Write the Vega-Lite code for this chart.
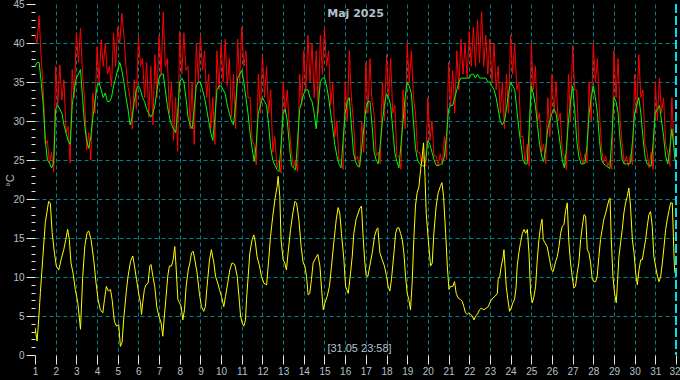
{
 "$schema": "https://vega.github.io/schema/vega-lite/v6.json",
 "width": 641, "height": 351,
 "autosize": "none",
 "padding": {"left": 35, "top": 4, "right": 4, "bottom": 25},
 "background": "#000000",
 "title": {"text": "Maj 2025", "anchor": "middle", "frame": "group", "offset": -29, "font": "DejaVu Sans", "fontSize": 11, "fontWeight": "bold", "color": "#b4c0cc", "baseline": "alphabetic"},
 "datasets": {
  "rg": [
{"t":1.0,"r":41,"g":37},{"t":1.1,"r":40,"g":37.5},{"t":1.2,"r":43.5,"g":37.5},{"t":1.3,"r":38,"g":35},{"t":1.4,"r":34,"g":32},{"t":1.5,"r":27,"g":27.5},{"t":1.6,"r":27.5,"g":25},{"t":1.7,"r":24.5,"g":24.6},{"t":1.8,"r":26,"g":24},{"t":1.9,"r":23.5,"g":24.5},
{"t":2.0,"r":37,"g":31.5},{"t":2.1,"r":32,"g":32},{"t":2.2,"r":37.2,"g":31.5},{"t":2.3,"r":32.7,"g":31},{"t":2.4,"r":35.3,"g":29.5},{"t":2.5,"r":28.5,"g":28.5},{"t":2.6,"r":29.3,"g":27.5},{"t":2.7,"r":24.6,"g":27},{"t":2.8,"r":36.6,"g":32},{"t":2.9,"r":33,"g":34},
{"t":3.0,"r":41.3,"g":35.5},{"t":3.1,"r":37.5,"g":36},{"t":3.2,"r":41.9,"g":36.6},{"t":3.3,"r":36,"g":33},{"t":3.4,"r":32.7,"g":29.5},{"t":3.5,"r":26.3,"g":27.5},{"t":3.6,"r":28.5,"g":26.5},{"t":3.7,"r":25,"g":28},{"t":3.8,"r":33.6,"g":30.5},{"t":3.9,"r":31,"g":32.5},
{"t":4.0,"r":39.5,"g":34.4},{"t":4.1,"r":35,"g":34.9},{"t":4.2,"r":40.4,"g":34},{"t":4.3,"r":37,"g":33},{"t":4.4,"r":40,"g":33.6},{"t":4.5,"r":36,"g":32.5},{"t":4.6,"r":37,"g":32.5},{"t":4.7,"r":34.4,"g":33},{"t":4.8,"r":41.3,"g":34.5},{"t":4.9,"r":37,"g":35.5},
{"t":5.0,"r":42,"g":36.6},{"t":5.1,"r":40,"g":37.5},{"t":5.2,"r":43.8,"g":36.5},{"t":5.3,"r":41,"g":35},{"t":5.4,"r":37,"g":33},{"t":5.5,"r":34.4,"g":31.5},{"t":5.6,"r":33,"g":29.5},{"t":5.7,"r":29,"g":30.5},{"t":5.8,"r":35.3,"g":32.5},{"t":5.9,"r":31.5,"g":34},
{"t":6.0,"r":40.9,"g":34.5},{"t":6.1,"r":37,"g":34},{"t":6.2,"r":38,"g":33},{"t":6.3,"r":33,"g":32.5},{"t":6.4,"r":37.5,"g":31.5},{"t":6.5,"r":30.5,"g":31},{"t":6.6,"r":37,"g":30.5},{"t":6.7,"r":29.5,"g":31},{"t":6.8,"r":38.5,"g":32},{"t":6.9,"r":33,"g":34},
{"t":7.0,"r":41,"g":35.5},{"t":7.1,"r":36,"g":36},{"t":7.2,"r":44,"g":36},{"t":7.3,"r":37,"g":34},{"t":7.4,"r":38,"g":32},{"t":7.5,"r":31,"g":30.5},{"t":7.6,"r":35,"g":29.5},{"t":7.7,"r":27.5,"g":29},{"t":7.8,"r":33,"g":28.5},{"t":7.9,"r":26.1,"g":31},
{"t":8.0,"r":41.5,"g":35},{"t":8.1,"r":36,"g":35.5},{"t":8.2,"r":41.3,"g":35},{"t":8.3,"r":36.5,"g":33},{"t":8.4,"r":37,"g":30.5},{"t":8.5,"r":29,"g":29.5},{"t":8.6,"r":35,"g":29},{"t":8.7,"r":27,"g":31.5},{"t":8.8,"r":40,"g":34.5},{"t":8.9,"r":35,"g":35},
{"t":9.0,"r":41,"g":35},{"t":9.1,"r":36.5,"g":34},{"t":9.2,"r":39,"g":33},{"t":9.3,"r":33,"g":31.5},{"t":9.4,"r":36,"g":30},{"t":9.5,"r":29,"g":28.5},{"t":9.6,"r":33,"g":27.5},{"t":9.7,"r":27,"g":30.5},{"t":9.8,"r":39,"g":34},{"t":9.9,"r":34,"g":34.5},
{"t":10.0,"r":40,"g":34.5},{"t":10.1,"r":35,"g":34},{"t":10.2,"r":40.5,"g":33.5},{"t":10.3,"r":34.5,"g":32},{"t":10.4,"r":38,"g":31},{"t":10.5,"r":30.5,"g":30},{"t":10.6,"r":36,"g":29.5},{"t":10.7,"r":29,"g":32},{"t":10.8,"r":40.5,"g":35.5},{"t":10.9,"r":35,"g":36},
{"t":11.0,"r":42,"g":36.5},{"t":11.1,"r":37,"g":35},{"t":11.2,"r":39,"g":33},{"t":11.3,"r":33,"g":31},{"t":11.4,"r":33,"g":28.5},{"t":11.5,"r":27.5,"g":26.5},{"t":11.6,"r":27,"g":24.8},{"t":11.7,"r":24.4,"g":27},{"t":11.8,"r":36,"g":31},{"t":11.9,"r":31,"g":32},
{"t":12.0,"r":38.5,"g":33},{"t":12.1,"r":33,"g":32.5},{"t":12.2,"r":37,"g":32},{"t":12.3,"r":31,"g":29.5},{"t":12.4,"r":34,"g":26.5},{"t":12.5,"r":26,"g":25},{"t":12.6,"r":28,"g":24.3},{"t":12.7,"r":24,"g":23.8},{"t":12.8,"r":25,"g":23.5},{"t":12.9,"r":23.3,"g":27},
{"t":13.0,"r":35,"g":31},{"t":13.1,"r":31,"g":31.5},{"t":13.2,"r":34,"g":30},{"t":13.3,"r":29,"g":27},{"t":13.4,"r":26,"g":24.3},{"t":13.5,"r":24,"g":24},{"t":13.6,"r":25,"g":23.7},{"t":13.7,"r":23.5,"g":27.5},{"t":13.8,"r":36,"g":31.5},{"t":13.9,"r":32,"g":32.5},
{"t":14.0,"r":39,"g":33.5},{"t":14.1,"r":34,"g":34},{"t":14.2,"r":41,"g":34},{"t":14.3,"r":35,"g":33},{"t":14.4,"r":40,"g":32.5},{"t":14.5,"r":33,"g":31},{"t":14.6,"r":39,"g":29},{"t":14.7,"r":31,"g":32},{"t":14.8,"r":41,"g":35},{"t":14.9,"r":36,"g":35.5},
{"t":15.0,"r":42,"g":35.5},{"t":15.1,"r":37,"g":34.5},{"t":15.2,"r":39,"g":33},{"t":15.3,"r":32,"g":31},{"t":15.4,"r":35,"g":29},{"t":15.5,"r":28,"g":27},{"t":15.6,"r":30,"g":25.5},{"t":15.7,"r":25,"g":24.5},{"t":15.8,"r":25,"g":24},{"t":15.9,"r":23.8,"g":27.5},
{"t":16.0,"r":35,"g":31},{"t":16.1,"r":30,"g":32.5},{"t":16.2,"r":39,"g":33},{"t":16.3,"r":33,"g":29.5},{"t":16.4,"r":30,"g":26},{"t":16.5,"r":25,"g":24.8},{"t":16.6,"r":25.5,"g":24.2},{"t":16.7,"r":24,"g":24.2},{"t":16.8,"r":30,"g":26.5},{"t":16.9,"r":26,"g":29},
{"t":17.0,"r":37.5,"g":31.5},{"t":17.1,"r":31,"g":32.5},{"t":17.2,"r":38,"g":32.5},{"t":17.3,"r":32.5,"g":29.5},{"t":17.4,"r":31,"g":26},{"t":17.5,"r":25.5,"g":25},{"t":17.6,"r":26,"g":24.5},{"t":17.7,"r":24.5,"g":27},{"t":17.8,"r":35,"g":30},{"t":17.9,"r":30,"g":32},
{"t":18.0,"r":38.5,"g":33.5},{"t":18.1,"r":33,"g":33},{"t":18.2,"r":38,"g":32},{"t":18.3,"r":31,"g":29},{"t":18.4,"r":32,"g":26},{"t":18.5,"r":25.5,"g":24.8},{"t":18.6,"r":25.5,"g":24},{"t":18.7,"r":23.8,"g":27},{"t":18.8,"r":34,"g":30},{"t":18.9,"r":29,"g":33},
{"t":19.0,"r":40,"g":35},{"t":19.1,"r":35,"g":34.5},{"t":19.2,"r":39,"g":33.5},{"t":19.3,"r":33,"g":30},{"t":19.4,"r":31,"g":26.5},{"t":19.5,"r":26,"g":25},{"t":19.6,"r":26,"g":24.5},{"t":19.7,"r":24.5,"g":24.3},{"t":19.8,"r":25.5,"g":24.2},{"t":19.9,"r":24.2,"g":25},
{"t":20.0,"r":33,"g":27.5},{"t":20.1,"r":27.5,"g":27},{"t":20.2,"r":30,"g":26},{"t":20.3,"r":25.5,"g":25},{"t":20.4,"r":25.5,"g":24.3},{"t":20.5,"r":24.2,"g":24.3},{"t":20.6,"r":25.8,"g":24.4},{"t":20.7,"r":24.4,"g":24.6},{"t":20.8,"r":28,"g":25.5},{"t":20.9,"r":25,"g":28},
{"t":21.0,"r":37.5,"g":31.5},{"t":21.1,"r":32,"g":32},{"t":21.2,"r":36.5,"g":32},{"t":21.3,"r":31,"g":33},{"t":21.4,"r":39,"g":34},{"t":21.5,"r":34,"g":35},{"t":21.6,"r":40.5,"g":35.5},{"t":21.7,"r":36,"g":35.5},{"t":21.8,"r":40,"g":35.5},{"t":21.9,"r":35.5,"g":35.5},
{"t":22.0,"r":41.5,"g":35.5},{"t":22.1,"r":37,"g":36},{"t":22.2,"r":42,"g":36},{"t":22.3,"r":37,"g":35.5},{"t":22.4,"r":43,"g":36},{"t":22.5,"r":37.5,"g":35.5},{"t":22.6,"r":44,"g":35.5},{"t":22.7,"r":37,"g":35.5},{"t":22.8,"r":41,"g":35.5},{"t":22.9,"r":36,"g":35},
{"t":23.0,"r":40.5,"g":35},{"t":23.1,"r":35,"g":34.5},{"t":23.2,"r":40,"g":34},{"t":23.3,"r":34,"g":33},{"t":23.4,"r":37,"g":31.5},{"t":23.5,"r":31,"g":30},{"t":23.6,"r":35,"g":29.5},{"t":23.7,"r":29,"g":30},{"t":23.8,"r":36,"g":31.5},{"t":23.9,"r":31,"g":33.5},
{"t":24.0,"r":41,"g":35},{"t":24.1,"r":36,"g":34.5},{"t":24.2,"r":40,"g":34},{"t":24.3,"r":34,"g":31.5},{"t":24.4,"r":35,"g":29},{"t":24.5,"r":28,"g":27},{"t":24.6,"r":28,"g":25},{"t":24.7,"r":24.5,"g":24.5},{"t":24.8,"r":27,"g":24.5},{"t":24.9,"r":24.2,"g":29},
{"t":25.0,"r":40,"g":34.5},{"t":25.1,"r":34,"g":33.5},{"t":25.2,"r":37,"g":32},{"t":25.3,"r":30,"g":29.5},{"t":25.4,"r":31,"g":27},{"t":25.5,"r":26,"g":25.5},{"t":25.6,"r":27,"g":24.8},{"t":25.7,"r":24.5,"g":26.5},{"t":25.8,"r":33,"g":29},{"t":25.9,"r":28,"g":30},
{"t":26.0,"r":36,"g":31},{"t":26.1,"r":31,"g":31.5},{"t":26.2,"r":35,"g":31},{"t":26.3,"r":30,"g":29},{"t":26.4,"r":31,"g":27},{"t":26.5,"r":26,"g":25},{"t":26.6,"r":25.5,"g":24},{"t":26.7,"r":23.8,"g":26.5},{"t":26.8,"r":36,"g":30},{"t":26.9,"r":30,"g":32.5},
{"t":27.0,"r":39.7,"g":34.5},{"t":27.1,"r":34,"g":31.5},{"t":27.2,"r":34,"g":27.5},{"t":27.3,"r":27,"g":25.5},{"t":27.4,"r":25.5,"g":24.5},{"t":27.5,"r":24.5,"g":24.5},{"t":27.6,"r":25.8,"g":24.6},{"t":27.7,"r":24.6,"g":27},{"t":27.8,"r":35,"g":31},{"t":27.9,"r":30,"g":33},
{"t":28.0,"r":40,"g":34.5},{"t":28.1,"r":35,"g":33},{"t":28.2,"r":38,"g":31},{"t":28.3,"r":31,"g":27.5},{"t":28.4,"r":26.5,"g":25},{"t":28.5,"r":24.6,"g":24.5},{"t":28.6,"r":25.5,"g":24.3},{"t":28.7,"r":24.2,"g":24.1},{"t":28.8,"r":25,"g":23.9},{"t":28.9,"r":23.8,"g":28},
{"t":29.0,"r":39,"g":33},{"t":29.1,"r":33,"g":32.5},{"t":29.2,"r":38,"g":31},{"t":29.3,"r":30,"g":27.5},{"t":29.4,"r":27,"g":25},{"t":29.5,"r":24.5,"g":24.5},{"t":29.6,"r":25.5,"g":24.5},{"t":29.7,"r":24.2,"g":24.5},{"t":29.8,"r":25.8,"g":24.6},{"t":29.9,"r":24.4,"g":27.5},
{"t":30.0,"r":36,"g":31},{"t":30.1,"r":31,"g":32},{"t":30.2,"r":38.5,"g":33},{"t":30.3,"r":33,"g":31},{"t":30.4,"r":34,"g":28},{"t":30.5,"r":27,"g":25.5},{"t":30.6,"r":26,"g":24.5},{"t":30.7,"r":24,"g":24.3},{"t":30.8,"r":26,"g":24.2},{"t":30.9,"r":23.8,"g":27.5},
{"t":31.0,"r":35,"g":31},{"t":31.1,"r":30,"g":31.5},{"t":31.2,"r":35.5,"g":32},{"t":31.3,"r":31,"g":30},{"t":31.4,"r":33,"g":28},{"t":31.5,"r":27,"g":25.5},{"t":31.6,"r":26,"g":24.5},{"t":31.7,"r":24.2,"g":26.5},{"t":31.8,"r":33,"g":29},{"t":31.9,"r":27,"g":26.5},{"t":31.95,"r":25,"g":25}
  ],
  "yl": [
{"t":1.0,"v":3.5},{"t":1.1,"v":1.8},{"t":1.18,"v":4.6},{"t":1.26,"v":8.0},{"t":1.37,"v":12.2},{"t":1.5,"v":17.0},{"t":1.66,"v":19.7},{"t":1.74,"v":19.5},{"t":1.83,"v":15.7},{"t":1.94,"v":13.1},
{"t":2.03,"v":11.4},{"t":2.15,"v":10.9},{"t":2.26,"v":12.2},{"t":2.39,"v":13.5},{"t":2.49,"v":14.8},{"t":2.58,"v":16.1},{"t":2.66,"v":14.8},{"t":2.74,"v":11.8},{"t":2.84,"v":10.5},{"t":2.95,"v":8.4},
{"t":3.07,"v":6.7},{"t":3.2,"v":3.3},{"t":3.24,"v":5.8},{"t":3.31,"v":10.1},{"t":3.41,"v":14.0},{"t":3.52,"v":15.7},{"t":3.6,"v":15.9},{"t":3.71,"v":14.8},{"t":3.84,"v":12.2},{"t":3.95,"v":9.3},
{"t":4.05,"v":7.1},{"t":4.16,"v":5.8},{"t":4.28,"v":5.4},{"t":4.36,"v":7.1},{"t":4.45,"v":8.8},{"t":4.55,"v":8.2},{"t":4.65,"v":8.4},{"t":4.73,"v":7.1},{"t":4.84,"v":4.3},{"t":4.94,"v":3.7},
{"t":5.05,"v":3.9},{"t":5.13,"v":1.1},{"t":5.21,"v":1.6},{"t":5.29,"v":4.6},{"t":5.41,"v":8.0},{"t":5.5,"v":10.1},{"t":5.62,"v":12.0},{"t":5.73,"v":12.7},{"t":5.81,"v":11.4},{"t":5.91,"v":9.7},
{"t":6.02,"v":7.8},{"t":6.1,"v":6.7},{"t":6.15,"v":5.2},{"t":6.21,"v":6.7},{"t":6.29,"v":8.4},{"t":6.37,"v":9.0},{"t":6.47,"v":9.2},{"t":6.55,"v":11.4},{"t":6.61,"v":11.6},{"t":6.7,"v":10.1},{"t":6.79,"v":8.8},{"t":6.89,"v":6.2},{"t":6.99,"v":5.0},
{"t":7.1,"v":4.1},{"t":7.18,"v":2.4},{"t":7.24,"v":4.5},{"t":7.34,"v":7.5},{"t":7.42,"v":10.1},{"t":7.5,"v":11.4},{"t":7.6,"v":11.4},{"t":7.68,"v":12.2},{"t":7.76,"v":13.9},{"t":7.82,"v":11.4},{"t":7.91,"v":7.1},{"t":7.99,"v":6.7},
{"t":8.07,"v":6.2},{"t":8.15,"v":4.5},{"t":8.23,"v":5.8},{"t":8.31,"v":8.8},{"t":8.41,"v":10.9},{"t":8.49,"v":11.8},{"t":8.57,"v":13.1},{"t":8.65,"v":13.3},{"t":8.73,"v":12.2},{"t":8.84,"v":10.5},{"t":8.95,"v":7.9},
{"t":9.05,"v":6.2},{"t":9.16,"v":5.6},{"t":9.24,"v":6.2},{"t":9.32,"v":8.8},{"t":9.44,"v":12.2},{"t":9.53,"v":13.5},{"t":9.65,"v":11.8},{"t":9.73,"v":10.1},{"t":9.84,"v":9.2},{"t":9.92,"v":8.4},
{"t":10.02,"v":7.5},{"t":10.13,"v":6.2},{"t":10.21,"v":7.5},{"t":10.32,"v":9.2},{"t":10.42,"v":10.9},{"t":10.53,"v":11.8},{"t":10.66,"v":11.6},{"t":10.78,"v":10.1},{"t":10.89,"v":6.7},{"t":10.94,"v":5.0},
{"t":11.02,"v":4.1},{"t":11.1,"v":3.7},{"t":11.18,"v":4.5},{"t":11.23,"v":7.1},{"t":11.31,"v":10.1},{"t":11.39,"v":13.1},{"t":11.5,"v":14.8},{"t":11.58,"v":15.4},{"t":11.66,"v":14.4},{"t":11.74,"v":12.6},{"t":11.86,"v":11.4},{"t":11.95,"v":10.1},
{"t":12.07,"v":9.2},{"t":12.2,"v":9.0},{"t":12.29,"v":11.8},{"t":12.39,"v":15.2},{"t":12.5,"v":17.8},{"t":12.6,"v":19.9},{"t":12.71,"v":21.6},{"t":12.76,"v":22.9},{"t":12.84,"v":20.3},{"t":12.9,"v":14.8},
{"t":13.0,"v":12.2},{"t":13.08,"v":11.8},{"t":13.16,"v":10.9},{"t":13.24,"v":13.1},{"t":13.36,"v":16.1},{"t":13.47,"v":18.2},{"t":13.57,"v":19.7},{"t":13.65,"v":19.5},{"t":13.76,"v":17.4},{"t":13.87,"v":13.9},{"t":13.97,"v":11.8},
{"t":14.05,"v":11.4},{"t":14.13,"v":10.1},{"t":14.21,"v":7.7},{"t":14.29,"v":7.9},{"t":14.37,"v":9.7},{"t":14.45,"v":11.8},{"t":14.57,"v":12.4},{"t":14.68,"v":12.9},{"t":14.78,"v":11.4},{"t":14.86,"v":8.4},{"t":14.94,"v":5.8},
{"t":15.02,"v":6.7},{"t":15.13,"v":7.5},{"t":15.24,"v":8.8},{"t":15.34,"v":11.4},{"t":15.45,"v":14.4},{"t":15.57,"v":17.4},{"t":15.66,"v":18.9},{"t":15.74,"v":18.2},{"t":15.82,"v":15.6},{"t":15.94,"v":12.2},
{"t":16.02,"v":8.8},{"t":16.15,"v":7.9},{"t":16.26,"v":10.5},{"t":16.34,"v":12.6},{"t":16.42,"v":15.6},{"t":16.53,"v":17.4},{"t":16.63,"v":18.2},{"t":16.71,"v":18.8},{"t":16.79,"v":19.1},{"t":16.86,"v":15.6},{"t":16.94,"v":12.2},
{"t":17.02,"v":10.1},{"t":17.1,"v":10.1},{"t":17.19,"v":11.4},{"t":17.31,"v":13.1},{"t":17.42,"v":15.2},{"t":17.52,"v":16.1},{"t":17.58,"v":16.3},{"t":17.68,"v":13.1},{"t":17.79,"v":12.2},{"t":17.9,"v":11.4},
{"t":18.0,"v":10.1},{"t":18.08,"v":8.8},{"t":18.16,"v":8.2},{"t":18.24,"v":9.7},{"t":18.36,"v":13.1},{"t":18.44,"v":15.6},{"t":18.52,"v":16.3},{"t":18.6,"v":16.3},{"t":18.68,"v":15.6},{"t":18.76,"v":14.8},{"t":18.84,"v":13.1},{"t":18.92,"v":10.1},
{"t":19.0,"v":7.9},{"t":19.08,"v":7.1},{"t":19.16,"v":5.8},{"t":19.24,"v":9.2},{"t":19.32,"v":14.8},{"t":19.4,"v":19.1},{"t":19.48,"v":20.8},{"t":19.57,"v":21.6},{"t":19.65,"v":23.8},{"t":19.73,"v":25.5},{"t":19.79,"v":27.2},{"t":19.86,"v":22.9},{"t":19.92,"v":18.2},
{"t":20.02,"v":14.8},{"t":20.13,"v":11.4},{"t":20.21,"v":11.8},{"t":20.29,"v":15.6},{"t":20.4,"v":19.1},{"t":20.5,"v":20.8},{"t":20.6,"v":21.6},{"t":20.68,"v":22.1},{"t":20.76,"v":20.3},{"t":20.86,"v":15.6},{"t":20.94,"v":11.4},
{"t":21.02,"v":8.4},{"t":21.1,"v":8.8},{"t":21.21,"v":8.8},{"t":21.29,"v":9.4},{"t":21.37,"v":7.9},{"t":21.47,"v":7.3},{"t":21.58,"v":7.1},{"t":21.66,"v":6.9},{"t":21.74,"v":6.2},{"t":21.82,"v":5.4},{"t":21.9,"v":5.2},{"t":21.98,"v":5.4},
{"t":22.07,"v":5.2},{"t":22.15,"v":5.0},{"t":22.23,"v":4.5},{"t":22.31,"v":5.0},{"t":22.39,"v":5.2},{"t":22.5,"v":5.8},{"t":22.58,"v":6.0},{"t":22.71,"v":5.8},{"t":22.82,"v":6.0},{"t":22.92,"v":6.2},
{"t":23.03,"v":6.9},{"t":23.14,"v":7.3},{"t":23.24,"v":7.5},{"t":23.36,"v":7.9},{"t":23.4,"v":9.7},{"t":23.48,"v":10.1},{"t":23.55,"v":11.4},{"t":23.63,"v":12.4},{"t":23.68,"v":13.5},{"t":23.73,"v":11.4},{"t":23.79,"v":8.8},{"t":23.87,"v":7.1},{"t":23.95,"v":5.6},
{"t":24.03,"v":6.0},{"t":24.11,"v":6.7},{"t":24.19,"v":7.1},{"t":24.27,"v":8.8},{"t":24.32,"v":11.4},{"t":24.4,"v":13.1},{"t":24.48,"v":14.4},{"t":24.57,"v":15.6},{"t":24.65,"v":16.1},{"t":24.73,"v":15.6},{"t":24.81,"v":16.1},{"t":24.89,"v":13.1},{"t":24.97,"v":7.9},
{"t":25.05,"v":6.7},{"t":25.13,"v":7.5},{"t":25.21,"v":8.8},{"t":25.29,"v":12.2},{"t":25.37,"v":14.8},{"t":25.45,"v":16.5},{"t":25.52,"v":17.4},{"t":25.58,"v":14.8},{"t":25.66,"v":14.4},{"t":25.77,"v":13.9},{"t":25.89,"v":12.2},{"t":25.98,"v":10.9},
{"t":26.06,"v":10.7},{"t":26.18,"v":12.0},{"t":26.26,"v":12.6},{"t":26.34,"v":13.9},{"t":26.42,"v":15.6},{"t":26.5,"v":16.5},{"t":26.58,"v":16.7},{"t":26.66,"v":18.5},{"t":26.74,"v":19.5},{"t":26.82,"v":14.4},{"t":26.9,"v":11.8},{"t":26.98,"v":10.1},
{"t":27.06,"v":8.6},{"t":27.14,"v":8.8},{"t":27.22,"v":10.5},{"t":27.3,"v":11.8},{"t":27.39,"v":14.8},{"t":27.47,"v":16.5},{"t":27.55,"v":18.0},{"t":27.63,"v":17.8},{"t":27.71,"v":13.5},{"t":27.79,"v":13.1},{"t":27.87,"v":11.8},{"t":27.95,"v":9.7},
{"t":28.03,"v":9.4},{"t":28.11,"v":9.4},{"t":28.19,"v":10.1},{"t":28.27,"v":12.6},{"t":28.35,"v":14.8},{"t":28.43,"v":16.1},{"t":28.51,"v":17.4},{"t":28.6,"v":18.2},{"t":28.68,"v":19.1},{"t":28.76,"v":19.9},{"t":28.81,"v":20.1},{"t":28.87,"v":14.8},{"t":28.95,"v":10.1},
{"t":29.03,"v":7.9},{"t":29.11,"v":6.7},{"t":29.16,"v":8.8},{"t":29.24,"v":12.6},{"t":29.32,"v":14.4},{"t":29.4,"v":16.1},{"t":29.48,"v":18.2},{"t":29.56,"v":19.5},{"t":29.64,"v":20.3},{"t":29.72,"v":21.4},{"t":29.8,"v":19.1},{"t":29.89,"v":14.8},{"t":29.97,"v":13.1},
{"t":30.05,"v":10.5},{"t":30.13,"v":9.0},{"t":30.21,"v":10.9},{"t":30.29,"v":12.2},{"t":30.37,"v":12.2},{"t":30.45,"v":13.5},{"t":30.53,"v":14.8},{"t":30.61,"v":16.5},{"t":30.69,"v":18.0},{"t":30.77,"v":18.4},{"t":30.85,"v":16.5},{"t":30.93,"v":12.6},
{"t":31.01,"v":11.4},{"t":31.1,"v":10.1},{"t":31.18,"v":9.4},{"t":31.26,"v":10.1},{"t":31.34,"v":11.8},{"t":31.42,"v":13.9},{"t":31.5,"v":16.1},{"t":31.58,"v":17.4},{"t":31.66,"v":18.5},{"t":31.74,"v":19.5},{"t":31.82,"v":19.5},{"t":31.87,"v":15.6},{"t":31.92,"v":11.4},{"t":31.95,"v":10.5}
  ]
 },
 "layer": [
  {
   "data": {"name": "rg"},
   "mark": {"type": "line", "color": "#ff0000", "strokeWidth": 1, "clip": true},
   "encoding": {
    "x": {"field": "t", "type": "quantitative", "title": "[31.05 23:58]", "scale": {"domain": [1, 32], "nice": false, "zero": false},
     "axis": {
      "values": [1,1.125,1.25,1.375,1.5,1.625,1.75,1.875,2,2.125,2.25,2.375,2.5,2.625,2.75,2.875,3,3.125,3.25,3.375,3.5,3.625,3.75,3.875,4,4.125,4.25,4.375,4.5,4.625,4.75,4.875,5,5.125,5.25,5.375,5.5,5.625,5.75,5.875,6,6.125,6.25,6.375,6.5,6.625,6.75,6.875,7,7.125,7.25,7.375,7.5,7.625,7.75,7.875,8,8.125,8.25,8.375,8.5,8.625,8.75,8.875,9,9.125,9.25,9.375,9.5,9.625,9.75,9.875,10,10.125,10.25,10.375,10.5,10.625,10.75,10.875,11,11.125,11.25,11.375,11.5,11.625,11.75,11.875,12,12.125,12.25,12.375,12.5,12.625,12.75,12.875,13,13.125,13.25,13.375,13.5,13.625,13.75,13.875,14,14.125,14.25,14.375,14.5,14.625,14.75,14.875,15,15.125,15.25,15.375,15.5,15.625,15.75,15.875,16,16.125,16.25,16.375,16.5,16.625,16.75,16.875,17,17.125,17.25,17.375,17.5,17.625,17.75,17.875,18,18.125,18.25,18.375,18.5,18.625,18.75,18.875,19,19.125,19.25,19.375,19.5,19.625,19.75,19.875,20,20.125,20.25,20.375,20.5,20.625,20.75,20.875,21,21.125,21.25,21.375,21.5,21.625,21.75,21.875,22,22.125,22.25,22.375,22.5,22.625,22.75,22.875,23,23.125,23.25,23.375,23.5,23.625,23.75,23.875,24,24.125,24.25,24.375,24.5,24.625,24.75,24.875,25,25.125,25.25,25.375,25.5,25.625,25.75,25.875,26,26.125,26.25,26.375,26.5,26.625,26.75,26.875,27,27.125,27.25,27.375,27.5,27.625,27.75,27.875,28,28.125,28.25,28.375,28.5,28.625,28.75,28.875,29,29.125,29.25,29.375,29.5,29.625,29.75,29.875,30,30.125,30.25,30.375,30.5,30.625,30.75,30.875,31,31.125,31.25,31.375,31.5,31.625,31.75,31.875,32],
      "tickCount": 1000, "format": "d",
      "labelExpr": "datum.value % 1 == 0 ? datum.label : ''",
      "labelOverlap": false, "labelFlush": false, "labelBound": false, "labelPadding": 2,
      "labelAlign": {"condition": {"test": "datum.value == 32", "value": "right"}, "value": "center"},
      "labelOffset": {"condition": {"test": "datum.value == 32", "value": 4}, "value": 0},
      "tickSize": {"condition": {"test": "datum.value % 1 == 0", "value": 9}, "value": 5},
      "grid": true, "gridColor": "#008080", "gridDash": [4, 3], "gridWidth": 1,
      "gridOpacity": {"condition": {"test": "datum.value % 1 != 0 || datum.value == 1 || datum.value == 32", "value": 0}, "value": 1},
      "domain": false,
      "titleX": 324, "titleY": -3.5, "titleAlign": "center", "titleBaseline": "alphabetic"
     }},
    "y": {"field": "r", "type": "quantitative", "title": "°C", "scale": {"domain": [0, 45], "nice": false, "zero": false},
     "axis": {
      "values": [0,1,2,3,4,5,6,7,8,9,10,11,12,13,14,15,16,17,18,19,20,21,22,23,24,25,26,27,28,29,30,31,32,33,34,35,36,37,38,39,40,41,42,43,44,45],
      "tickCount": 1000, "format": "d",
      "labelExpr": "datum.value % 5 == 0 ? datum.label : ''",
      "labelOverlap": false, "labelFlush": false, "labelBound": false, "labelPadding": 2,
      "tickSize": {"condition": {"test": "datum.value % 5 == 0", "value": 9}, "value": 4},
      "grid": true, "gridColor": "#008080", "gridDash": [4, 3], "gridWidth": 1,
      "gridOpacity": {"condition": {"test": "datum.value % 5 != 0 || datum.value == 0 || datum.value == 45", "value": 0}, "value": 1},
      "domain": false,
      "titleX": -25, "titleY": 176, "titleAngle": -90, "titleAlign": "center", "titleBaseline": "middle"
     }}
   }
  },
  {
   "data": {"name": "rg"},
   "mark": {"type": "line", "color": "#00ff00", "strokeWidth": 1, "clip": true},
   "encoding": {
    "x": {"field": "t", "type": "quantitative", "title": "[31.05 23:58]"},
    "y": {"field": "g", "type": "quantitative", "title": "°C"}
   }
  },
  {
   "data": {"name": "yl"},
   "mark": {"type": "line", "color": "#ffff00", "strokeWidth": 1, "clip": true},
   "encoding": {
    "x": {"field": "t", "type": "quantitative", "title": "[31.05 23:58]"},
    "y": {"field": "v", "type": "quantitative", "title": "°C"}
   }
  },
  {
   "data": {"values": [{}]},
   "mark": {"type": "rule", "color": "#00e0f0", "strokeWidth": 2, "strokeDash": [9, 3]},
   "encoding": {
    "x": {"datum": 32, "type": "quantitative", "title": "[31.05 23:58]"}
   }
  }
 ],
 "config": {
  "view": {"stroke": null},
  "axis": {
   "labelFont": "Liberation Sans", "labelFontSize": 10, "labelColor": "#b4c0cc",
   "tickColor": "#e6e6e6", "tickWidth": 1,
   "titleFont": "Liberation Sans", "titleFontSize": 11, "titleFontWeight": "normal", "titleColor": "#b4c0cc"
  }
 }
}
